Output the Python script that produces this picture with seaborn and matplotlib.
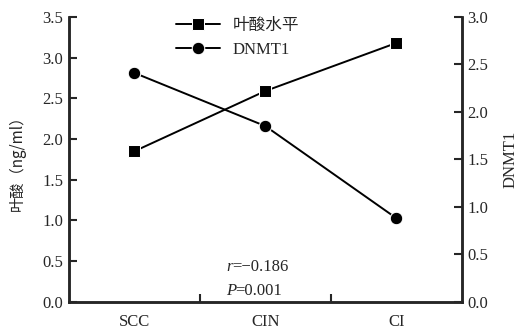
import pandas as pd
import numpy as np
import matplotlib
matplotlib.use("Agg")
import matplotlib.pyplot as plt
import seaborn as sns

# data
groups = ["SCC", "CIN", "CI"]
folate = [1.85, 2.59, 3.18]   # 叶酸水平 (ng/ml), left axis
dnmt1 = [2.41, 1.85, 0.88]    # DNMT1, right axis
left_ticks = [0.0, 0.5, 1.0, 1.5, 2.0, 2.5, 3.0, 3.5]
right_ticks = [0.0, 0.5, 1.0, 1.5, 2.0, 2.5, 3.0]

sns.set_theme(style="ticks")
plt.rcParams['font.family'] = ['Liberation Serif', 'Noto Sans CJK SC']
plt.rcParams['axes.linewidth'] = 1.8

df = pd.DataFrame({"pos": np.arange(len(groups)), "folate": folate, "dnmt1": dnmt1})

fig = plt.figure(figsize=(5.22, 3.31), dpi=100)
ax = fig.add_axes([0.132, 0.088, 0.753, 0.861])
ax2 = ax.twinx()

sns.lineplot(data=df, x="pos", y="folate", ax=ax, color="black", marker="s",
             markersize=8, linewidth=1.4, label="叶酸水平", legend=False)
sns.lineplot(data=df, x="pos", y="dnmt1", ax=ax2, color="black", marker="o",
             markersize=9, linewidth=1.4, label="DNMT1", legend=False)

ax.set_xlim(-0.5, 2.5)
ax.set_ylim(0, 3.5)
ax2.set_ylim(0, 3.0)
ax.set_yticks(left_ticks)
ax.set_yticklabels([f"{v:.1f}" for v in left_ticks], fontsize=12)
ax2.set_yticks(right_ticks)
ax2.set_yticklabels([f"{v:.1f}" for v in right_ticks], fontsize=12)

# category labels without tick marks, tick marks between categories
ax.set_xticks(df["pos"])
ax.set_xticklabels(groups, fontsize=12)
ax.tick_params(axis="x", which="major", length=0, pad=9)
ax.set_xticks([0.5, 1.5], minor=True)
ax.tick_params(axis="x", which="minor", direction="in", length=6, width=1.5)
ax.tick_params(axis="y", direction="in", length=6, width=1.5, pad=4)
ax2.tick_params(axis="y", direction="in", length=6, width=1.5, pad=4)

for a in (ax, ax2):
    a.spines["top"].set_visible(False)
    a.spines["right"].set_visible(True)
    a.set_xlabel("")

ax.set_ylabel("叶酸（ng/ml）", fontsize=11, labelpad=12,
              family=['Noto Sans CJK SC', 'Liberation Serif'])
ax2.set_ylabel("DNMT1", fontsize=12, labelpad=10)

handles = ax.get_lines()[:1] + ax2.get_lines()[:1]
ax.legend(handles, ["叶酸水平", "DNMT1"], loc="upper center", bbox_to_anchor=(0.43, 1.02),
          frameon=False, handlelength=2.6, borderaxespad=0,
          prop={'family': ['Liberation Serif', 'Noto Sans CJK SC'], 'size': 12})

ax.text(0.40, 0.11, "r", style="italic", transform=ax.transAxes, fontsize=12)
ax.text(0.415, 0.11, "=−0.186", transform=ax.transAxes, fontsize=12,
        family=['Liberation Serif', 'DejaVu Sans'])
ax.text(0.40, 0.025, "P", style="italic", transform=ax.transAxes, fontsize=12)
ax.text(0.422, 0.025, "=0.001", transform=ax.transAxes, fontsize=12)

fig.savefig("out.png", dpi=100)
